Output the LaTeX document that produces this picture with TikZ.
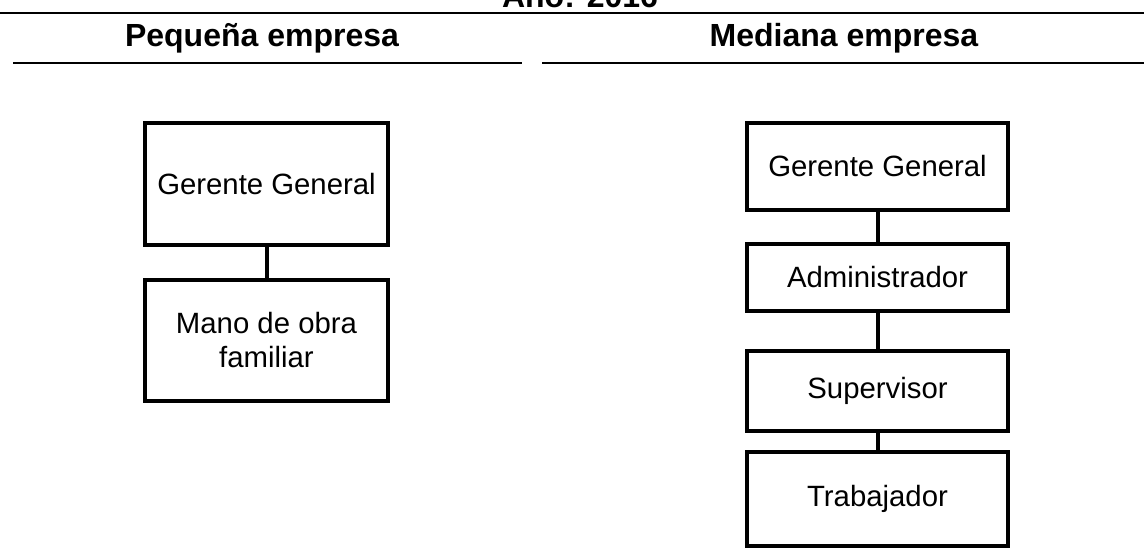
\documentclass[tikz,border=0pt]{standalone}
\usepackage{fontspec}
\setmainfont{Liberation Sans}
\tikzset{every picture/.style={line width=0.75pt}}
\tikzset{
  puesto/.style={draw, line width=3pt, align=center, inner sep=0pt, font=\fontsize{22}{25.5}\selectfont},
  titulo/.style={anchor=base, inner sep=0pt, font=\bfseries\fontsize{24}{28}\selectfont},
  regla/.style={line width=2.2pt}
}
\def\px{0.75pt}

\begin{document}
\begin{tikzpicture}[x=0.75pt,y=0.75pt,yscale=-1,xscale=1]
		\useasboundingbox (0,0) rectangle (1144,555);
		\clip (0,0) rectangle (1144,555);

		%Title and rules
		\node [titulo] (anio) at (580,8) {Año: 2016};
		\draw [regla] (0,13) -- (1144,13) ;
		\node [titulo] (pequena) at (262,47) {Pequeña empresa};
		\node [titulo] (mediana) at (844,47) {Mediana empresa};
		\draw [regla] (13,63) -- (522,63) ;
		\draw [regla] (542,63) -- (1144,63) ;

		%Pequeña empresa
		\node [puesto, minimum width=243*\px, minimum height=122*\px] (gerenteP) at (266.5,184) {Gerente General};
		\node [puesto, minimum width=243*\px, minimum height=121*\px] (manoP) at (266.5,340.5) {Mano de obra\\familiar};
		\draw [line width=3pt] (gerenteP) -- (manoP) ;

		%Mediana empresa
		\node [puesto, minimum width=261*\px, minimum height=87*\px] (gerenteM) at (877.5,166.5) {Gerente General};
		\node [puesto, minimum width=261*\px, minimum height=67*\px] (adminM) at (877.5,277.5) {Administrador};
		\node [puesto, minimum width=261*\px, minimum height=80*\px] (superM) at (877.5,391) {Supervisor};
		\node [puesto, minimum width=261*\px, minimum height=94*\px] (trabM) at (877.5,499) {Trabajador};
		\draw [line width=3pt] (gerenteM) -- (adminM) ;
		\draw [line width=3pt] (adminM) -- (superM) ;
		\draw [line width=3pt] (superM) -- (trabM) ;

\end{tikzpicture}
\end{document}
